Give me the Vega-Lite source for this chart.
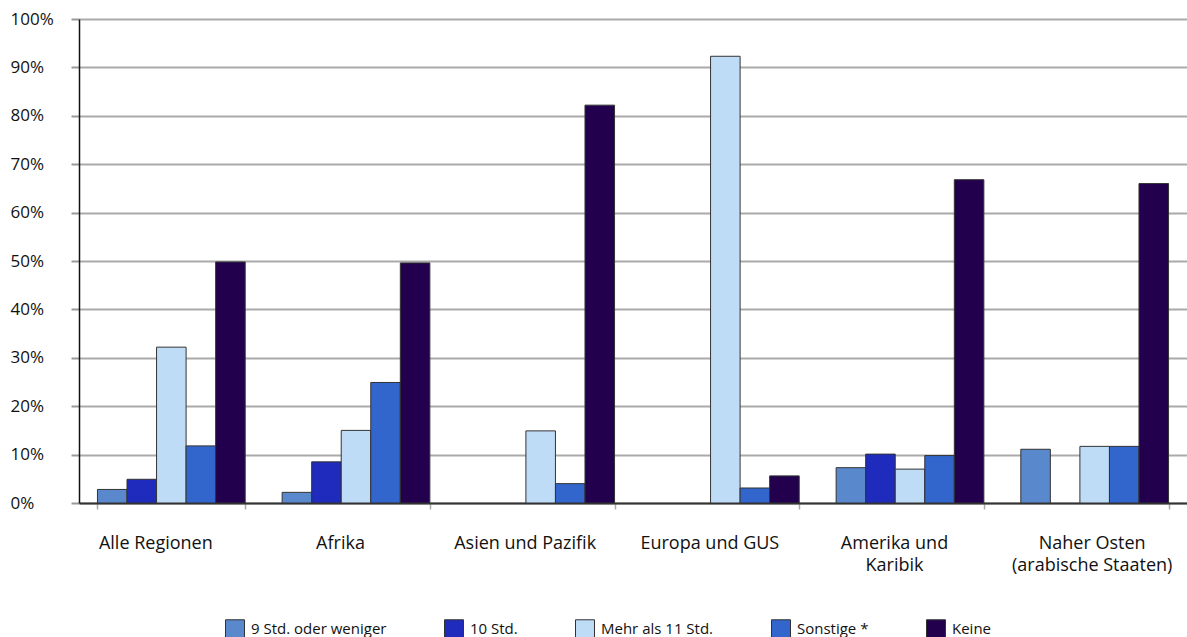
{
  "$schema": "https://vega.github.io/schema/vega-lite/v6.json",
  "width": 1108,
  "height": 484,
  "padding": {"left": 10, "top": 10, "right": 0, "bottom": 0},
  "background": "#ffffff",
  "config": {
    "font": "Open Sans",
    "view": {"stroke": null}
  },
  "data": {
    "values": [
      {"region": "Alle Regionen", "serie": "9 Std. oder weniger", "anteil": 2.8},
      {"region": "Alle Regionen", "serie": "10 Std.", "anteil": 4.9},
      {"region": "Alle Regionen", "serie": "Mehr als 11 Std.", "anteil": 32.2},
      {"region": "Alle Regionen", "serie": "Sonstige *", "anteil": 11.8},
      {"region": "Alle Regionen", "serie": "Keine", "anteil": 49.8},
      {"region": "Afrika", "serie": "9 Std. oder weniger", "anteil": 2.2},
      {"region": "Afrika", "serie": "10 Std.", "anteil": 8.5},
      {"region": "Afrika", "serie": "Mehr als 11 Std.", "anteil": 15.0},
      {"region": "Afrika", "serie": "Sonstige *", "anteil": 24.9},
      {"region": "Afrika", "serie": "Keine", "anteil": 49.6},
      {"region": "Asien und Pazifik", "serie": "Mehr als 11 Std.", "anteil": 14.9},
      {"region": "Asien und Pazifik", "serie": "Sonstige *", "anteil": 4.0},
      {"region": "Asien und Pazifik", "serie": "Keine", "anteil": 82.2},
      {"region": "Europa und GUS", "serie": "Mehr als 11 Std.", "anteil": 92.3},
      {"region": "Europa und GUS", "serie": "Sonstige *", "anteil": 3.1},
      {"region": "Europa und GUS", "serie": "Keine", "anteil": 5.6},
      {"region": "Amerika und Karibik", "serie": "9 Std. oder weniger", "anteil": 7.3},
      {"region": "Amerika und Karibik", "serie": "10 Std.", "anteil": 10.1},
      {"region": "Amerika und Karibik", "serie": "Mehr als 11 Std.", "anteil": 7.0},
      {"region": "Amerika und Karibik", "serie": "Sonstige *", "anteil": 9.8},
      {"region": "Amerika und Karibik", "serie": "Keine", "anteil": 66.8},
      {"region": "Naher Osten (arabische Staaten)", "serie": "9 Std. oder weniger", "anteil": 11.1},
      {"region": "Naher Osten (arabische Staaten)", "serie": "Mehr als 11 Std.", "anteil": 11.7},
      {"region": "Naher Osten (arabische Staaten)", "serie": "Sonstige *", "anteil": 11.7},
      {"region": "Naher Osten (arabische Staaten)", "serie": "Keine", "anteil": 66.0}
    ]
  },
  "mark": {"type": "bar", "stroke": "#333333", "strokeWidth": 1},
  "encoding": {
    "x": {
      "field": "region",
      "type": "nominal",
      "sort": null,
      "scale": {"paddingInner": 0.2, "paddingOuter": 0.1},
      "axis": {
        "title": null,
        "labelAngle": 0,
        "labelFontSize": 18,
        "labelColor": "#111111",
        "labelPadding": 25,
        "labelLineHeight": 22,
        "labelOffset": {
          "condition": {"test": "datum.value == 'Naher Osten (arabische Staaten)'", "value": -3},
          "value": -16
        },
        "labelExpr": "datum.value == 'Amerika und Karibik' ? ['Amerika und', 'Karibik'] : datum.value == 'Naher Osten (arabische Staaten)' ? ['Naher Osten', '(arabische Staaten)'] : datum.value",
        "tickBand": "extent",
        "ticks": true,
        "tickSize": 6,
        "tickColor": "#aaaaaa",
        "tickWidth": 1.5,
        "domain": true,
        "domainColor": "#333333",
        "domainWidth": 2,
        "grid": false
      }
    },
    "xOffset": {
      "field": "serie",
      "type": "nominal",
      "scale": {
        "domain": ["9 Std. oder weniger", "10 Std.", "Mehr als 11 Std.", "Sonstige *", "Keine"],
        "paddingInner": 0,
        "paddingOuter": 0
      }
    },
    "y": {
      "field": "anteil",
      "type": "quantitative",
      "scale": {"domain": [0, 100], "nice": false},
      "axis": {
        "title": null,
        "values": [0, 10, 20, 30, 40, 50, 60, 70, 80, 90, 100],
        "labelExpr": "datum.value + '%'",
        "labelAlign": "left",
        "labelPadding": 61,
        "labelFontSize": 17,
        "labelColor": "#111111",
        "tickSize": 8,
        "tickColor": "#999999",
        "tickWidth": 2,
        "domainColor": "#111111",
        "domainWidth": 1.5,
        "grid": true,
        "gridColor": "#aaaaaa",
        "gridWidth": 2
      }
    },
    "color": {
      "field": "serie",
      "type": "nominal",
      "scale": {
        "domain": ["9 Std. oder weniger", "10 Std.", "Mehr als 11 Std.", "Sonstige *", "Keine"],
        "range": ["#5a88cc", "#1f2bbd", "#bfdcf7", "#3366cc", "#22004d"]
      },
      "legend": {
        "title": null,
        "orient": "none",
        "legendX": 146,
        "legendY": 600,
        "direction": "horizontal",
        "columns": 5,
        "columnPadding": 55,
        "symbolType": "square",
        "symbolSize": 360,
        "symbolStrokeColor": "#333333",
        "symbolStrokeWidth": 1,
        "labelFontSize": 15,
        "labelColor": "#111111",
        "labelOffset": 6
      }
    }
  }
}
